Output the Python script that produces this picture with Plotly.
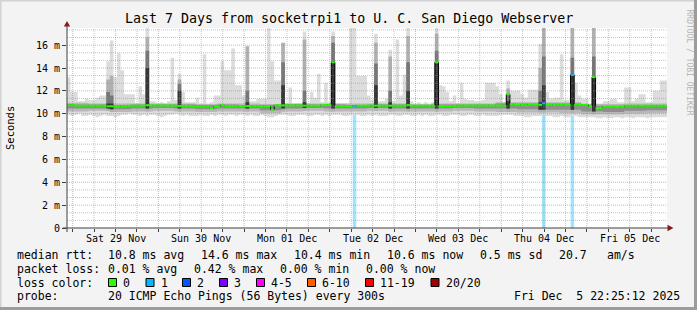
import numpy as np
import pandas as pd
import plotly.graph_objects as go

START = "2025-11-28 22:25:12"
END = "2025-12-05 22:25:12"

# hourly median rtt (ms)
median_ms = [
    10.75, 10.75, 10.72, 10.70, 10.70, 10.70, 10.70, 10.70, 10.70, 10.70, 10.72, 10.65,
    10.65, 10.65, 10.65, 10.65, 10.68, 10.70, 10.70, 10.70, 10.70, 10.70, 10.75, 10.72,
    10.72, 10.72, 10.72, 10.72, 10.72, 10.72, 10.70, 10.68, 10.68, 10.68, 10.68, 10.66,
    10.66, 10.65, 10.65, 10.60, 10.50, 10.64, 10.64, 10.76, 10.67, 10.67, 10.67, 10.68,
    10.67, 10.66, 10.67, 10.67, 10.67, 10.68, 10.67, 10.67, 10.67, 10.35, 10.73, 10.73,
    10.73, 10.73, 10.73, 10.73, 10.73, 10.73, 10.70, 10.70, 10.70, 10.70, 10.70, 10.76,
    10.76, 10.76, 14.50, 10.67, 10.67, 10.67, 10.67, 10.67, 10.67, 10.70, 10.70, 10.70,
    10.70, 10.70, 10.70, 10.72, 10.70, 10.70, 10.70, 10.70, 10.70, 10.70, 10.70, 10.75,
    10.70, 10.70, 10.70, 10.70, 10.70, 10.70, 10.70, 14.50, 10.67, 10.67, 10.67, 10.67,
    10.67, 10.67, 10.72, 10.72, 10.72, 10.72, 10.72, 10.72, 10.72, 10.72, 10.72, 10.72,
    10.72, 10.72, 10.70, 11.70, 10.85, 10.80, 10.80, 10.80, 10.75, 10.78, 10.78, 10.78,
    10.78, 10.90, 10.80, 10.80, 10.80, 10.80, 10.80, 10.80, 10.80, 13.40, 10.78, 10.78,
    10.78, 10.78, 10.65, 13.20, 10.50, 10.50, 10.60, 10.60, 10.60, 10.60, 10.60, 10.60,
    10.70, 10.70, 10.70, 10.70, 10.70, 10.70, 10.70, 10.70, 10.70, 10.70, 10.70, 10.70,
]

# hourly highest ping (ms)
max_ms = [
    13.2, 11.9, 11.9, 11.1, 11.1, 11.3, 11.2, 11.2, 11.4, 11.6, 11.6, 14.6,
    16.4, 13.2, 15.3, 13.8, 11.7, 11.7, 11.7, 10.9, 12.4, 11.7, 17.5, 11.1,
    11.1, 10.9, 11.0, 10.9, 11.1, 14.9, 11.2, 13.5, 11.9, 11.0, 11.0, 11.0,
    11.4, 10.9, 15.2, 10.9, 11.0, 11.6, 11.6, 14.6, 13.8, 13.8, 15.7, 12.5,
    12.5, 11.6, 15.9, 11.1, 11.1, 11.3, 11.3, 11.3, 17.5, 14.6, 12.9, 12.9,
    16.2, 10.9, 12.3, 10.9, 10.9, 10.9, 17.2, 10.9, 11.9, 11.4, 13.5, 11.0,
    12.7, 11.0, 17.2, 10.9, 10.9, 10.9, 10.9, 17.5, 17.5, 13.3, 13.3, 13.3,
    11.6, 11.2, 17.0, 11.1, 11.1, 11.3, 15.6, 11.1, 16.5, 11.6, 13.4, 17.5,
    11.1, 10.9, 11.0, 10.9, 11.0, 10.9, 11.0, 17.5, 12.5, 12.4, 11.9, 11.1,
    11.6, 10.9, 12.7, 11.3, 11.2, 11.2, 11.1, 11.1, 11.2, 12.7, 12.7, 12.7,
    12.4, 11.7, 10.9, 12.9, 12.0, 12.0, 12.0, 11.7, 11.4, 12.1, 12.1, 12.1,
    16.1, 17.5, 11.9, 11.3, 11.4, 11.4, 15.2, 11.2, 11.2, 17.5, 12.7, 11.6,
    11.3, 11.3, 10.9, 17.5, 10.9, 10.9, 11.1, 11.1, 11.3, 11.3, 11.0, 11.0,
    12.3, 12.3, 11.1, 11.3, 11.7, 11.7, 11.0, 11.0, 12.0, 12.0, 12.9, 12.9,
]

# hourly lowest ping (ms)
min_ms = [
    9.9, 9.8, 9.9, 10.0, 9.8, 9.8, 9.9, 9.8, 9.7, 9.8, 9.9, 9.8,
    9.8, 9.7, 9.8, 9.9, 9.9, 10.0, 9.9, 9.9, 9.8, 9.9, 9.8, 9.9,
    9.9, 9.8, 9.7, 9.8, 9.9, 9.9, 10.0, 9.9, 9.8, 9.9, 9.8, 9.8,
    9.8, 9.9, 9.8, 9.8, 9.9, 9.8, 9.9, 9.9, 9.8, 9.9, 9.9, 9.8,
    9.9, 9.9, 9.8, 9.9, 9.8, 9.8, 9.9, 9.8, 9.7, 9.7, 9.8, 9.9,
    9.9, 9.9, 9.8, 9.8, 9.9, 9.9, 9.9, 9.8, 9.8, 9.9, 9.9, 9.8,
    9.9, 9.8, 9.9, 9.9, 9.9, 9.8, 9.8, 9.9, 9.9, 9.9, 9.8, 9.8,
    9.9, 9.8, 9.9, 9.8, 9.8, 9.8, 9.9, 9.9, 9.8, 9.8, 9.9, 9.9,
    9.8, 9.8, 9.9, 9.8, 9.9, 9.8, 9.8, 9.9, 9.9, 9.8, 9.8, 9.9,
    9.9, 9.9, 9.8, 9.8, 9.9, 9.9, 9.8, 9.8, 9.9, 9.8, 9.8, 9.8,
    9.8, 9.9, 9.9, 9.9, 9.9, 9.8, 9.8, 9.8, 9.7, 9.7, 9.8, 9.8,
    9.8, 9.8, 9.8, 9.8, 9.7, 9.7, 9.8, 9.7, 9.7, 9.8, 9.8, 9.7,
    9.7, 9.7, 9.7, 9.7, 9.6, 9.6, 9.7, 9.6, 9.6, 9.7, 9.7, 9.6,
    9.7, 9.7, 9.6, 9.7, 9.7, 9.7, 9.6, 9.7, 9.7, 9.7, 9.7, 9.7,
]

# inner smoke bands, per 6-hour block (ms)
band_mid_lo = [10.20, 10.25, 10.15, 10.20, 10.25, 10.20, 10.15, 10.20, 10.20, 10.05,
               10.20, 10.25, 10.20, 10.20, 10.25, 10.20, 10.20, 10.20, 10.25, 10.20,
               10.15, 10.10, 10.10, 10.05, 9.95, 9.95, 10.00, 10.05]
band_mid_hi = [10.95, 10.90, 10.90, 10.90, 10.90, 10.90, 10.85, 10.90, 10.90, 10.85,
               10.90, 10.90, 10.90, 10.90, 10.90, 10.90, 10.85, 10.90, 10.90, 10.90,
               11.00, 11.00, 11.00, 11.00, 10.85, 10.85, 10.90, 10.90]
band_dark_lo = [10.45, 10.45, 10.40, 10.45, 10.50, 10.45, 10.40, 10.45, 10.45, 10.30,
                10.45, 10.50, 10.45, 10.45, 10.50, 10.45, 10.45, 10.45, 10.50, 10.45,
                10.45, 10.40, 10.35, 10.35, 10.20, 10.15, 10.25, 10.30]
band_dark_hi = [10.80, 10.80, 10.75, 10.80, 10.80, 10.80, 10.75, 10.80, 10.75, 10.75,
                10.80, 10.80, 10.80, 10.75, 10.80, 10.80, 10.75, 10.80, 10.80, 10.80,
                10.90, 10.90, 10.90, 10.90, 10.70, 10.70, 10.75, 10.75]

# hours where many pings were slow
heavy_hour = [11, 12, 22, 31, 50, 60, 66, 74, 86, 90, 95, 103, 123, 132, 133, 141, 147]
heavy_mid = [13.0, 13.3, 16.7, 13.0, 15.9, 16.2, 16.5, 16.8, 16.2, 15.0, 16.8, 17.0, 12.2, 14.0, 17.5, 17.5, 17.5]
heavy_dark = [11.9, 11.6, 15.5, 12.6, 12.0, 14.5, 12.0, 16.2, 14.4, 12.0, 14.5, 15.5, 11.7, 12.0, 15.0, 14.9, 15.0]
heavy_black = [10.9, 10.9, 14.0, 12.0, 11.0, 12.5, 11.0, 14.6, 12.5, 11.0, 12.0, 14.5, 11.1, 11.0, 12.5, 13.4, 13.2]

# hours with lost packets (count of 20)
loss_hour = [80, 133, 141]
loss_count = [1, 1, 1]

y_tick_vals = [0, 2, 4, 6, 8, 10, 12, 14, 16]
y_tick_text = ["0", "2 m", "4 m", "6 m", "8 m", "10 m", "12 m", "14 m", "16 m"]
day_label_text = ["Sat 29 Nov", "Sun 30 Nov", "Mon 01 Dec", "Tue 02 Dec", "Wed 03 Dec", "Thu 04 Dec", "Fri 05 Dec"]
day_label_time = ["2025-11-29 12:00", "2025-11-30 12:00", "2025-12-01 12:00", "2025-12-02 12:00",
                  "2025-12-03 12:00", "2025-12-04 12:00", "2025-12-05 12:00"]

loss_labels = ["0", "1", "2", "3", "4-5", "6-10", "11-19", "20/20"]
loss_colors = ["#26ff00", "#00b8ff", "#0059ff", "#7e00ff", "#ff00ff", "#ff5e00", "#ff0000", "#a10000"]

title_text = "Last 7 Days from socketrpi1 to U. C. San Diego Webserver"
rtt_items = ["median rtt:", "10.8 ms avg", "14.6 ms max", "10.4 ms min", "10.6 ms now", "0.5 ms sd", "20.7", "am/s"]
loss_items = ["packet loss:", "0.01 % avg", "0.42 % max", "0.00 % min", "0.00 % now"]
probe_items = ["probe:", "20 ICMP Echo Pings (56 Bytes) every 300s", "Fri Dec\u00a0 5 22:25:12 2025"]

# ---------------- layout geometry (pixels) ----------------
W, H = 697, 310
L, R, T, B = 67, 667, 28, 228
Y_MAX = 17.5
MONO = "DejaVu Sans Mono"


def px(x):
    return (x - L) / (R - L)


def py(y):
    return (B - y) / (B - T)


t0 = pd.Timestamp(START)
n = len(median_ms)
hour_edges = [t0 + pd.Timedelta(hours=i) for i in range(n + 1)]
block_edges = [t0 + pd.Timedelta(hours=6 * i) for i in range(len(band_mid_lo) + 1)]

fig = go.Figure()


def add_band(edges, lo, hi, color):
    fig.add_trace(go.Scatter(x=edges, y=list(lo) + [lo[-1]], mode="lines",
                             line=dict(width=0, shape="hv"), hoverinfo="skip", showlegend=False))
    fig.add_trace(go.Scatter(x=edges, y=list(hi) + [hi[-1]], mode="lines",
                             line=dict(width=0, shape="hv"), fill="tonexty", fillcolor=color,
                             hoverinfo="skip", showlegend=False))


def add_columns(hours, bases, tops, color):
    xs, ys = [], []
    for h, b, tp in zip(hours, bases, tops):
        xa, xb = hour_edges[h], hour_edges[h + 1]
        xs += [xa, xb, xb, xa, xa, None]
        ys += [b, b, tp, tp, b, None]
    fig.add_trace(go.Scatter(x=xs, y=ys, mode="lines", line=dict(width=0), fill="toself",
                             fillcolor=color, hoverinfo="skip", showlegend=False))


# loss bars (under the smoke)
add_columns(loss_hour, [0] * len(loss_hour), [median_ms[h] for h in loss_hour], "#a6e3fa")

# smoke
add_band(hour_edges, min_ms, max_ms, "#dcdcdc")
add_band(block_edges, band_mid_lo, band_mid_hi, "#b8b8b8")
add_band(block_edges, band_dark_lo, band_dark_hi, "#8e8e8e")
add_columns(heavy_hour, [band_mid_lo[h // 6] for h in heavy_hour], heavy_mid, "#b0b0b0")
add_columns(heavy_hour, [band_dark_lo[h // 6] for h in heavy_hour], heavy_dark, "#767676")
add_columns(heavy_hour, [band_dark_lo[h // 6] for h in heavy_hour], heavy_black, "#363636")

# median: black step (verticals) + loss-coloured horizontal segments
fig.add_trace(go.Scatter(x=hour_edges, y=median_ms + [median_ms[-1]], mode="lines",
                         line=dict(width=1, shape="hv", color="#000000"), hoverinfo="skip", showlegend=False))
loss_map = dict(zip(loss_hour, loss_count))
seg = {}
for h in range(n):
    c = loss_colors[loss_map.get(h, 0)]
    xs, ys = seg.setdefault(c, ([], []))
    xs += [hour_edges[h], hour_edges[h + 1], None]
    ys += [median_ms[h], median_ms[h], None]
for c, (xs, ys) in seg.items():
    fig.add_trace(go.Scatter(x=xs, y=ys, mode="lines", line=dict(width=2, color=c),
                             hoverinfo="skip", showlegend=False))

shapes = []
# grid (drawn above data, translucent)
GRID_MINOR = "rgba(150,150,150,0.55)"
GRID_MAJOR = "rgba(240,90,90,0.55)"
k = 1
while k * 2 / 3 <= Y_MAX:
    v = k * 2 / 3
    shapes.append(dict(type="line", xref="paper", yref="y", x0=0, x1=1, y0=v, y1=v, layer="above",
                       line=dict(color=GRID_MAJOR if k % 3 == 0 else GRID_MINOR, width=1, dash="1px,1px")))
    k += 1
tt = pd.Timestamp("2025-11-29 00:00")
j = 0
t_end = pd.Timestamp(END)
while tt + pd.Timedelta(hours=6 * j) < t_end:
    tj = tt + pd.Timedelta(hours=6 * j)
    shapes.append(dict(type="line", xref="x", yref="paper", x0=tj, x1=tj, y0=0, y1=1, layer="above",
                       line=dict(color=GRID_MAJOR if j % 4 == 0 else GRID_MINOR, width=1, dash="1px,1px")))
    j += 1

# axis extensions and arrows
AX = "#404040"
ARROW = "#8b1a1a"
shapes.append(dict(type="line", xref="paper", yref="paper", x0=px(L), x1=px(L), y0=py(B + 4), y1=py(24),
                   line=dict(color=AX, width=1)))
shapes.append(dict(type="line", xref="paper", yref="paper", x0=px(L - 4), x1=px(669), y0=py(B), y1=py(B),
                   line=dict(color=AX, width=1)))
shapes.append(dict(type="path", xref="paper", yref="paper",
                   path=f"M {px(L - 3.2)} {py(26.5)} L {px(L + 3.2)} {py(26.5)} L {px(L)} {py(21)} Z",
                   fillcolor=ARROW, line=dict(width=0)))
shapes.append(dict(type="path", xref="paper", yref="paper",
                   path=f"M {px(667.5)} {py(B - 3.2)} L {px(667.5)} {py(B + 3.2)} L {px(673.5)} {py(B)} Z",
                   fillcolor=ARROW, line=dict(width=0)))

# frame around the image
shapes.append(dict(type="rect", xref="paper", yref="paper", x0=px(0), x1=px(W), y0=py(0), y1=py(1.5),
                   fillcolor="#d2d2d2", line=dict(width=0)))
shapes.append(dict(type="rect", xref="paper", yref="paper", x0=px(0), x1=px(1.5), y0=py(0), y1=py(H),
                   fillcolor="#d2d2d2", line=dict(width=0)))
shapes.append(dict(type="rect", xref="paper", yref="paper", x0=px(0), x1=px(W), y0=py(H - 3), y1=py(H),
                   fillcolor="#9c9c9c", line=dict(width=0)))
shapes.append(dict(type="rect", xref="paper", yref="paper", x0=px(W - 3), x1=px(W), y0=py(0), y1=py(H),
                   fillcolor="#9c9c9c", line=dict(width=0)))

annotations = []


def text(x, y, s, size=11.5, color="#000000", anchor="left", angle=0, xref="paper"):
    annotations.append(dict(x=x if xref != "paper" else px(x), y=py(y), xref=xref, yref="paper", text=s,
                            showarrow=False, xanchor=anchor, yanchor="middle", textangle=angle,
                            font=dict(family=MONO, size=size, color=color), borderpad=0))


# title
text(348.5, 18.5, title_text, size=13.3, anchor="center")
# right vertical credit
text(689.5, 62, "RRDTOOL / TOBI OETIKER", size=8, color="#b4b4b4", anchor="center", angle=90)
# y title
text(10, 128, "Seconds", size=10.5, anchor="center", angle=-90)
# day labels
for s, tlab in zip(day_label_text, day_label_time):
    text(pd.Timestamp(tlab), 238, s, size=10, anchor="center", xref="x")

# legend lines
rtt_x = [16, 107.3, 200, 293.3, 386.7, 479.3, 558.3, 606.7]
for x, s in zip(rtt_x, rtt_items):
    text(x - 0.5, 255, s)
loss_x = [16, 107.3, 193.3, 279.3, 365]
for x, s in zip(loss_x, loss_items):
    text(x - 0.5, 268.5, s)
text(15.5, 282.5, "loss color:")
box_x = [108.5, 146, 182.5, 219.5, 256.5, 307.5, 365.5, 431]
for x, s, c in zip(box_x, loss_labels, loss_colors):
    shapes.append(dict(type="rect", xref="paper", yref="paper", x0=px(x), x1=px(x + 8), y0=py(278.5),
                       y1=py(286.5), fillcolor=c, line=dict(color="#000000", width=1)))
    text(x + 13.5, 282.5, s)
probe_x = [16, 107.3, 513]
for x, s in zip(probe_x, probe_items):
    text(x - 0.5, 296, s)

fig.update_layout(
    width=W, height=H, autosize=False,
    margin=dict(l=L, r=W - R, t=T, b=H - B, pad=0),
    paper_bgcolor="#f3f3f3", plot_bgcolor="#ffffff",
    showlegend=False,
    shapes=shapes, annotations=annotations,
    font=dict(family=MONO, size=10, color="#000000"),
    xaxis=dict(type="date", range=[t0, pd.Timestamp(END)], showgrid=False, zeroline=False,
               showticklabels=False, ticks="outside", ticklen=3, tickcolor=AX,
               tickmode="linear", tick0="2025-11-29 00:00", dtick=6 * 3600 * 1000,
               showline=False, fixedrange=True),
    yaxis=dict(range=[0, Y_MAX], showgrid=False, zeroline=False, showline=False,
               tickmode="array", tickvals=y_tick_vals, ticktext=y_tick_text,
               ticks="outside", ticklen=4, tickcolor=AX,
               tickfont=dict(family=MONO, size=10, color="#000000"), fixedrange=True),
)

fig.write_html("out.html")
